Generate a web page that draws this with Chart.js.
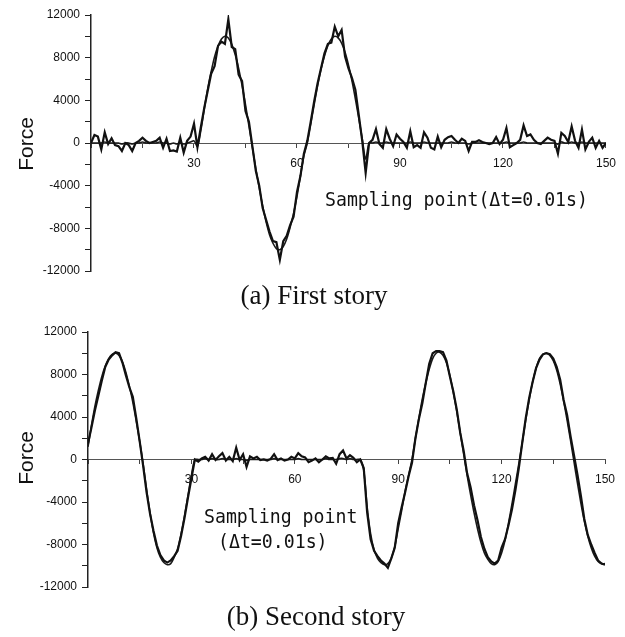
<!DOCTYPE html>
<html>
<head>
<meta charset="utf-8">
<script src="https://cdn.jsdelivr.net/npm/chart.js@4.4.1/dist/chart.umd.min.js"></script>
<style>
  html, body { margin: 0; padding: 0; background: #fff; width: 625px; height: 637px; overflow: hidden; }
  #wrap { position: relative; width: 625px; height: 637px; }
  canvas { position: absolute; left: 0; }
  .txt { position: absolute; white-space: pre; color: #111; }
  .mono { font-family: 'DejaVu Sans Mono', monospace; font-size: 20px; line-height: 20px; transform: scaleX(0.91); transform-origin: 0 0; }
  .cap { font-family: 'Liberation Serif', 'Times New Roman', serif; font-size: 27px; line-height: 27px; width: 400px; text-align: center; }
  .ylab { font-family: 'Liberation Sans', Arial, sans-serif; font-size: 21px; line-height: 24px; width: 60px; height: 24px; text-align: center; transform: rotate(-90deg); }
</style>
</head>
<body>
<div id="wrap">
  <canvas id="c1" width="625" height="318" style="top:0"></canvas>
  <canvas id="c2" width="625" height="319" style="top:318px"></canvas>
  <div class="txt ylab" style="left:-4px; top:132px;">Force</div>
  <div class="txt mono" style="left:325px; top:189px;">Sampling point(Δt=0.01s)</div>
  <div class="txt cap" style="left:114px; top:282px;">(a) First story</div>
  <div class="txt ylab" style="left:-4px; top:446px;">Force</div>
  <div class="txt mono" style="left:204px; top:506px;">Sampling point</div>
  <div class="txt mono" style="left:218px; top:531px;">(Δt=0.01s)</div>
  <div class="txt cap" style="left:116px; top:603px;">(b) Second story</div>
</div>
<script>
// Sampling points 0..150 (Δt = 0.01 s)
const samplePoints = [
  0,1,2,3,4,5,6,7,8,9,10,11,12,13,14,15,16,17,18,19,20,21,22,23,24,25,26,27,28,29,
  30,31,32,33,34,35,36,37,38,39,40,41,42,43,44,45,46,47,48,49,50,51,52,53,54,55,56,57,58,59,
  60,61,62,63,64,65,66,67,68,69,70,71,72,73,74,75,76,77,78,79,80,81,82,83,84,85,86,87,88,89,
  90,91,92,93,94,95,96,97,98,99,100,101,102,103,104,105,106,107,108,109,110,111,112,113,114,115,116,117,118,119,
  120,121,122,123,124,125,126,127,128,129,130,131,132,133,134,135,136,137,138,139,140,141,142,143,144,145,146,147,148,149,150
];

// (a) First story - measured (noisy) force
const firstStoryMeasured = [
  0,750,600,-600,1000,-100,450,-200,-300,-750,
  0,-200,-750,0,200,500,200,0,100,200,
  500,-450,400,-750,-700,-800,500,-900,200,600,
  1800,-400,1500,3300,4900,6500,7200,9100,9500,9300,
  11600,9000,8800,6400,5800,3000,2000,-300,-2600,-4000,
  -6100,-7200,-8300,-9200,-9300,-10960,-9200,-8700,-7700,-6900,
  -4600,-3100,-1000,200,2000,3900,5600,7000,8400,9300,
  9400,10900,10000,10600,8100,7000,6100,5000,2600,200,
  -2800,0,300,1300,-100,-450,1300,400,-300,800,
  400,100,-450,1100,-400,-200,-450,1000,500,-450,
  -600,600,-400,300,550,650,300,0,400,200,
  -750,100,100,250,100,0,-100,0,550,-100,
  300,1400,-400,-200,0,300,1650,650,800,300,
  0,-100,200,500,300,200,-1000,950,650,100,
  1550,200,-450,1250,-600,100,500,-450,200,-450,
  0
];

// (a) First story - estimated (smooth) force
const firstStoryEstimated = [
  0,0,0,0,100,0,0,0,0,-100,
  0,0,-100,0,0,100,0,0,0,0,
  100,0,0,-100,0,-100,0,-100,0,100,
  200,-300,1200,3200,5100,6700,8100,9100,9750,10000,
  9850,9250,8300,7000,5400,3600,1600,-400,-2400,-4200,
  -5900,-7400,-8600,-9400,-9900,-10000,-9700,-9000,-7900,-6600,
  -5000,-3100,-1200,0,1750,3600,5350,6900,8150,9150,
  9750,10000,9850,9350,8500,7300,5850,4150,2300,400,
  -1500,0,0,100,0,0,100,0,0,0,
  0,0,0,100,0,0,0,100,0,0,
  0,0,0,0,0,100,0,0,0,0,
  -100,0,0,0,0,0,0,0,0,0,
  0,100,0,0,0,0,100,0,0,0,
  0,0,0,0,0,0,-100,100,0,0,
  100,0,0,100,0,0,0,0,0,0,
  0
];

// (b) Second story - measured force
const secondStoryMeasured = [
  1500,3000,4600,6000,7400,8700,9400,9800,10100,10000,
  9100,7900,6800,5900,3900,1700,-600,-3100,-5100,-6700,
  -8100,-9000,-9500,-9700,-9500,-9100,-8600,-7200,-5500,-3600,
  -1800,0,-200,100,250,-100,500,-50,300,600,
  -100,250,-150,1100,-50,500,-700,300,100,250,
  -50,0,-100,50,500,-50,100,-100,0,250,
  100,600,300,200,-250,-100,100,-250,0,300,
  100,150,-400,500,850,100,400,150,-250,0,
  -800,-5000,-7500,-8600,-9100,-9500,-9800,-10200,-9300,-8300,
  -6000,-4500,-3100,-1600,-300,2000,3800,5300,7200,9000,
  10000,10200,10200,10100,9300,7800,6400,4700,2500,800,
  -1300,-2600,-4300,-5700,-7300,-8400,-9200,-9600,-9800,-9500,
  -8300,-7500,-6200,-4700,-2900,-800,1600,3900,5800,7300,
  8600,9400,9900,10000,9900,9500,8700,7500,5600,4200,
  2200,400,-1400,-3400,-5600,-7100,-8000,-8800,-9500,-9800,
  -9900
];

// (b) Second story - estimated force
const secondStoryEstimated = [
  1200,3200,5000,6500,7800,8800,9500,9900,10000,9800,
  9200,8200,6900,5400,3600,1700,-400,-2800,-5000,-6900,
  -8300,-9200,-9700,-9900,-9800,-9200,-8400,-7000,-5300,-3400,
  -1500,0,0,0,100,0,100,0,0,100,
  0,0,0,100,0,0,-100,0,0,0,
  0,0,0,0,100,0,0,0,0,0,
  0,100,0,0,0,0,0,0,0,100,
  0,0,0,100,100,0,100,0,0,0,
  -1000,-4500,-7000,-8500,-9300,-9700,-9900,-9800,-9300,-8200,
  -6500,-4800,-3000,-1500,0,2000,3900,5700,7200,8500,
  9500,10000,10100,9800,9100,7900,6300,4500,2500,500,
  -1500,-3300,-5000,-6500,-7800,-8800,-9400,-9800,-9900,-9600,
  -8800,-7600,-6000,-4200,-2300,-400,1600,3700,5600,7300,
  8600,9500,9900,10000,9800,9300,8400,7100,5500,3700,
  1800,-200,-2200,-4100,-5800,-7200,-8300,-9100,-9600,-9800,
  -9800
];

const xTickLabels = [30, 60, 90, 120, 150];
const yTickLabels = [-12000, -8000, -4000, 0, 4000, 8000, 12000];

const tickFont = { family: "'Liberation Sans', Arial, sans-serif", size: 12 };

function makeChart(canvasId, measured, estimated, geom) {
  const ctx = document.getElementById(canvasId).getContext('2d');
  return new Chart(ctx, {
    type: 'line',
    data: {
      labels: samplePoints,
      datasets: [
        { label: 'Measured', data: measured, borderColor: '#111', borderWidth: 2.2,
          pointRadius: 0, tension: 0, fill: false },
        { label: 'Estimated', data: estimated, borderColor: '#1a1a1a', borderWidth: 1.6,
          pointRadius: 0, tension: 0.3, fill: false }
      ]
    },
    options: {
      responsive: false,
      animation: false,
      events: [],
      layout: { padding: geom.padding },
      plugins: { legend: { display: false }, tooltip: { enabled: false }, title: { display: false } },
      scales: {
        x: {
          type: 'linear',
          min: 0, max: 150,
          position: { y: 0 },
          ticks: {
            stepSize: 15, autoSkip: false, maxRotation: 0, padding: 9,
            color: '#111', font: tickFont,
            callback: (v) => xTickLabels.includes(v) ? String(v) : ''
          },
          grid: { drawOnChartArea: false, drawTicks: true, tickLength: 4, color: '#444', lineWidth: 1 },
          border: { display: true, color: '#555', width: 1 }
        },
        y: {
          type: 'linear',
          min: -12000, max: 12000,
          ticks: {
            stepSize: 2000, autoSkip: false, padding: 5,
            color: '#111', font: tickFont,
            callback: (v) => yTickLabels.includes(v) ? String(v) : ''
          },
          grid: { drawOnChartArea: false, drawTicks: true, tickLength: 6, color: '#222', lineWidth: 1 },
          border: { display: true, color: '#222', width: 1.5 },
          afterFit: (scale) => { scale.width = geom.yAxisWidth; }
        }
      }
    }
  });
}

makeChart('c1', firstStoryMeasured, firstStoryEstimated,
  { padding: { left: 0, right: 14, top: 15, bottom: 47 }, yAxisWidth: 91 });
makeChart('c2', secondStoryMeasured, secondStoryEstimated,
  { padding: { left: 0, right: 20, top: 14, bottom: 50 }, yAxisWidth: 88 });
</script>
</body>
</html>
